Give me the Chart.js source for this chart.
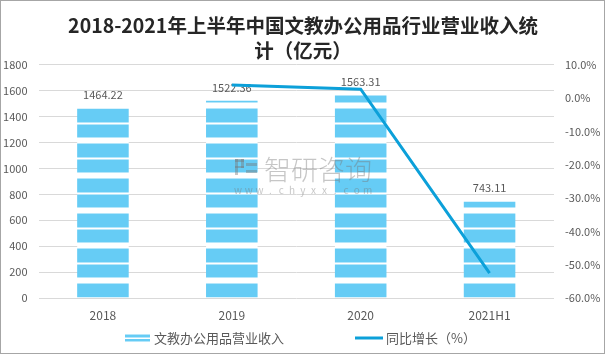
<!DOCTYPE html>
<html><head><meta charset="utf-8">
<script src="https://cdn.jsdelivr.net/npm/chart.js@4"></script>
<style>html,body{margin:0;padding:0;background:#fff}canvas{display:block}</style>
</head><body>
<canvas id="c" width="606" height="355"></canvas>
<script>
const categories = ['2018', '2019', '2020', '2021H1'];
const revenue = [1464.22, 1522.36, 1563.31, 743.11];
const growth = [null, 3.97, 2.69, -52.5];
const leftTicks = [0, 200, 400, 600, 800, 1000, 1200, 1400, 1600, 1800];
const rightTicks = [-60, -50, -40, -30, -20, -10, 0, 10];
const titleLines = ['2018-2021年上半年中国文教办公用品行业营业收入统', '计（亿元）'];
const seriesNames = ['文教办公用品营业收入', '同比增长（%）'];

const FONT = '"Noto Sans CJK SC", "Noto Sans", sans-serif';
const BLUE = '#66CCF5', LIGHT = '#B5E6FA', LINE = '#0CA0D9', TXT = '#595959';
Chart.defaults.font.family = FONT;

const canvas = document.getElementById('c');
const ctx0 = canvas.getContext('2d');

function makePattern(ctx) {
  const p = document.createElement('canvas');
  p.width = 4; p.height = 35;
  const g = p.getContext('2d');
  g.fillStyle = BLUE; g.fillRect(0, 0, 4, 35);
  const rows = {0:'#fff',1:'#fff',2:'#fff',3:LIGHT,17:LIGHT,18:'#fff',19:LIGHT,32:LIGHT,33:'#fff',34:'#fff'};
  for (const r in rows) { g.fillStyle = rows[r]; g.fillRect(0, +r, 4, 1); }
  return ctx.createPattern(p, 'repeat');
}
const barPattern = makePattern(ctx0);

const labelsPlugin = {
  id: 'barLabels',
  afterDatasetDraw(chart, args) {
    if (args.index !== 0) return;
    const ctx = chart.ctx;
    ctx.save();
    ctx.font = '11px ' + FONT;
    ctx.fillStyle = TXT;
    ctx.textAlign = 'center';
    ctx.textBaseline = 'middle';
    args.meta.data.forEach((b, i) => ctx.fillText(revenue[i].toFixed(2), b.x, b.y - 13.5));
    ctx.restore();
  }
};

const decorPlugin = {
  id: 'decor',
  afterDraw(chart) {
    const ctx = chart.ctx;
    ctx.save();
    // watermark
    ctx.fillStyle = 'rgba(120,120,120,0.42)';
    ctx.fillRect(235, 159, 9, 3); ctx.fillRect(235, 159, 3, 16); ctx.fillRect(241, 159, 3, 9);
    ctx.fillRect(235, 166, 9, 2); ctx.fillRect(246, 163, 11, 3); ctx.fillRect(246, 170, 11, 3);
    ctx.font = '300 27px ' + FONT;
    ctx.textAlign = 'left'; ctx.textBaseline = 'middle';
    ctx.fillText('智研咨询', 264, 170);
    ctx.font = '10px ' + FONT;
    ctx.textAlign = 'center';
    const url = 'www.chyxx.com';
    for (let i = 0; i < url.length; i++) ctx.fillText(url[i], 238 + i * 10.8, 190);
    // legend
    const ly = 338;
    ctx.fillStyle = BLUE; ctx.fillRect(125, 334, 25, 8);
    ctx.fillStyle = LIGHT; ctx.fillRect(125, 334, 25, 1); ctx.fillRect(125, 337, 25, 1); ctx.fillRect(125, 341, 25, 1);
    ctx.fillStyle = '#fff'; ctx.fillRect(125, 338, 25, 1);
    ctx.strokeStyle = LINE; ctx.lineWidth = 3;
    ctx.beginPath(); ctx.moveTo(355, ly); ctx.lineTo(383, ly); ctx.stroke();
    ctx.fillStyle = TXT; ctx.font = '13px ' + FONT; ctx.textAlign = 'left';
    ctx.fillText(seriesNames[0], 154, ly);
    ctx.fillText(seriesNames[1], 386, ly);
    // border
    ctx.strokeStyle = '#A6A6A6'; ctx.lineWidth = 1;
    ctx.strokeRect(0.5, 0.5, 604, 353);
    ctx.restore();
  }
};

new Chart(canvas, {
  data: {
    labels: categories,
    datasets: [
      { type: 'bar', label: seriesNames[0], data: revenue, yAxisID: 'yL', backgroundColor: barPattern,
        barPercentage: 0.4, categoryPercentage: 1, order: 2 },
      { type: 'line', label: seriesNames[1], data: growth, yAxisID: 'yR', borderColor: LINE, borderWidth: 3,
        pointRadius: 0, fill: false, tension: 0, order: 1 }
    ]
  },
  options: {
    responsive: false, animation: false,
    layout: { padding: 0 },
    plugins: {
      legend: { display: false },
      tooltip: { enabled: false },
      title: { display: true, text: titleLines, color: '#262626',
        font: { size: 19.5, weight: 'bold', lineHeight: 1.28, family: FONT }, padding: { top: 13, bottom: 2 } }
    },
    scales: {
      x: { grid: { display: false, drawTicks: false }, border: { display: false },
        ticks: { color: TXT, font: { size: 12 }, padding: 10 },
        afterFit(s) { s.height = 57; } },
      yL: { position: 'left', min: 0, max: 1800,
        afterBuildTicks(s) { s.ticks = leftTicks.map(v => ({ value: v })); },
        grid: { color: '#D9D9D9', drawTicks: false }, border: { display: false },
        ticks: { color: TXT, font: { size: 11 }, padding: 11, callback: v => String(v) },
        afterFit(s) { s.width = 38.5; } },
      yR: { position: 'right', min: -60, max: 10,
        afterBuildTicks(s) { s.ticks = rightTicks.map(v => ({ value: v })); },
        grid: { display: false, drawTicks: false }, border: { display: false },
        ticks: { color: TXT, font: { size: 11 }, padding: 11, callback: v => v.toFixed(1) + '%' },
        afterFit(s) { s.width = 52; } }
    }
  },
  plugins: [labelsPlugin, decorPlugin]
});
</script>
</body></html>
